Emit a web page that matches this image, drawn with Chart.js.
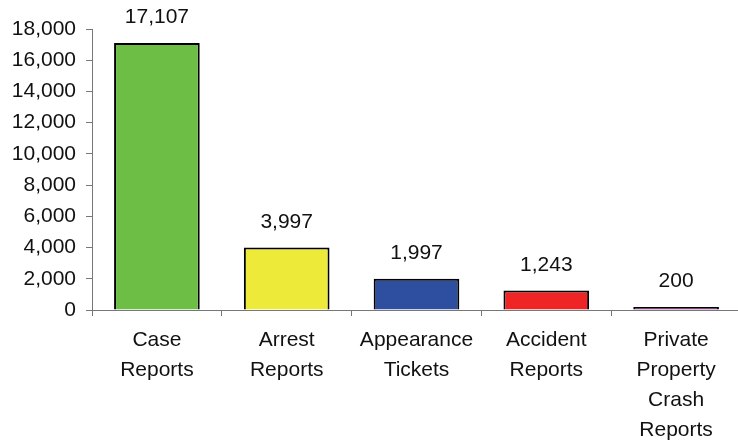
<!DOCTYPE html>
<html>
<head>
<meta charset="utf-8">
<script src="https://cdn.jsdelivr.net/npm/chart.js@4/dist/chart.umd.min.js"></script>
<style>
  html, body { margin: 0; padding: 0; background: #fff; overflow: hidden; }
  #wrap { width: 741px; height: 445px; }
</style>
</head>
<body>
<div id="wrap"><canvas id="reportsChart"></canvas></div>
<script>
const categories = [
    ['Case', 'Reports'],
    ['Arrest', 'Reports'],
    ['Appearance', 'Tickets'],
    ['Accident', 'Reports'],
    ['Private', 'Property', 'Crash', 'Reports']
];
const counts = [17107, 3997, 1997, 1243, 200];
const barColors = ['#6dbe45', '#eeea3a', '#2e4f9f', '#ee2524', '#641c64'];
const yTicks = [0, 2000, 4000, 6000, 8000, 10000, 12000, 14000, 16000, 18000];

const fontFamily = '"Liberation Sans", Arial, sans-serif';

// draws the number above each bar
const valueLabels = {
    id: 'valueLabels',
    afterDatasetsDraw(chart) {
        const ctx = chart.ctx;
        const meta = chart.getDatasetMeta(0);
        ctx.save();
        ctx.font = '21px ' + fontFamily;
        ctx.fillStyle = '#111';
        ctx.textAlign = 'center';
        ctx.textBaseline = 'alphabetic';
        meta.data.forEach((bar, i) => {
            ctx.fillText(counts[i].toLocaleString('en-US'), bar.x, bar.y - 20);
        });
        ctx.restore();
    }
};

new Chart(document.getElementById('reportsChart'), {
    type: 'bar',
    data: {
        labels: categories,
        datasets: [{
            data: counts,
            backgroundColor: barColors,
            borderColor: '#000',
            borderWidth: 2,
            barPercentage: 0.66,
            categoryPercentage: 1
        }]
    },
    options: {
        responsive: true,
        maintainAspectRatio: false,
        animation: false,
        layout: { padding: { top: 29, right: 0, left: 0, bottom: 0 } },
        plugins: {
            legend: { display: false },
            tooltip: { enabled: false }
        },
        scales: {
            x: {
                grid: {
                    offset: true,
                    drawOnChartArea: false,
                    drawTicks: true,
                    tickLength: 6,
                    color: '#777'
                },
                border: { color: '#777', width: 1 },
                ticks: {
                    color: '#111',
                    padding: 9,
                    maxRotation: 0,
                    font: { family: fontFamily, size: 21, lineHeight: 1.43 }
                },
                afterFit: scale => { scale.height = 135; }
            },
            y: {
                min: 0,
                max: 18000,
                afterBuildTicks: scale => {
                    scale.ticks = yTicks.map(v => ({ value: v }));
                },
                grid: {
                    drawOnChartArea: false,
                    drawTicks: true,
                    tickLength: 6,
                    color: '#777'
                },
                border: { color: '#777', width: 1 },
                ticks: {
                    color: '#111',
                    padding: 10,
                    font: { family: fontFamily, size: 21 },
                    callback: v => v.toLocaleString('en-US')
                },
                afterFit: scale => { scale.width = 92; }
            }
        }
    },
    plugins: [valueLabels]
});
</script>
</body>
</html>
